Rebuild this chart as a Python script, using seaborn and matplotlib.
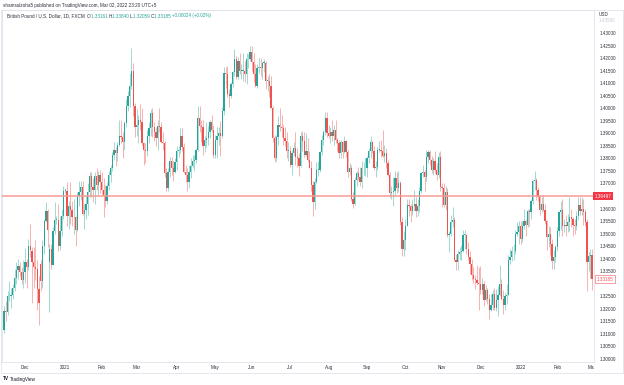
import numpy as np
import pandas as pd
import matplotlib
matplotlib.use("Agg")
import matplotlib.pyplot as plt
import matplotlib.transforms as mtransforms
from matplotlib.patches import Rectangle
import seaborn as sns

# -----------------------------
# GBP/USD daily candles, FXCM (open, high, low, close)
# -----------------------------
nov_2020 = [
    (1.3115, 1.3210, 1.3105, 1.3190), (1.3190, 1.3230, 1.3150, 1.3188),
    (1.3188, 1.3270, 1.3175, 1.3250), (1.3250, 1.3310, 1.3230, 1.3250),
    (1.3250, 1.3285, 1.3205, 1.3255), (1.3255, 1.3300, 1.3240, 1.3285),
    (1.3285, 1.3360, 1.3270, 1.3325), (1.3325, 1.3385, 1.3300, 1.3355),
    (1.3355, 1.3400, 1.3320, 1.3370), (1.3370, 1.3385, 1.3330, 1.3345),
    (1.3345, 1.3365, 1.3300, 1.3315), (1.3315, 1.3395, 1.3285, 1.3345),
]
dec_2020 = [
    (1.3345, 1.3443, 1.3305, 1.3385), (1.3385, 1.3400, 1.3285, 1.3365),
    (1.3365, 1.3480, 1.3355, 1.3450), (1.3450, 1.3540, 1.3405, 1.3435),
    (1.3430, 1.3445, 1.3225, 1.3385), (1.3385, 1.3445, 1.3285, 1.3365),
    (1.3365, 1.3475, 1.3315, 1.3360), (1.3360, 1.3395, 1.3195, 1.3280),
    (1.3280, 1.3330, 1.3135, 1.3225), (1.3380, 1.3395, 1.3270, 1.3310),
    (1.3310, 1.3475, 1.3285, 1.3450), (1.3450, 1.3560, 1.3420, 1.3550),
    (1.3550, 1.3625, 1.3545, 1.3590), (1.3590, 1.3600, 1.3445, 1.3515),
    (1.3385, 1.3460, 1.3188, 1.3440), (1.3440, 1.3460, 1.3360, 1.3375),
    (1.3375, 1.3525, 1.3375, 1.3510), (1.3510, 1.3625, 1.3500, 1.3555),
    (1.3555, 1.3570, 1.3540, 1.3555), (1.3555, 1.3620, 1.3430, 1.3450),
    (1.3450, 1.3570, 1.3435, 1.3510), (1.3510, 1.3600, 1.3490, 1.3570),
    (1.3570, 1.3690, 1.3560, 1.3670),
]
jan_2021 = [
    (1.3670, 1.3680, 1.3660, 1.3670), (1.3670, 1.3705, 1.3530, 1.3570),
    (1.3570, 1.3630, 1.3520, 1.3610), (1.3610, 1.3705, 1.3540, 1.3595),
    (1.3595, 1.3630, 1.3530, 1.3565), (1.3565, 1.3640, 1.3500, 1.3565),
    (1.3565, 1.3570, 1.3450, 1.3515), (1.3515, 1.3665, 1.3510, 1.3650),
    (1.3650, 1.3710, 1.3610, 1.3665), (1.3665, 1.3710, 1.3635, 1.3685),
    (1.3685, 1.3710, 1.3575, 1.3580), (1.3580, 1.3620, 1.3520, 1.3595),
    (1.3595, 1.3650, 1.3560, 1.3620), (1.3620, 1.3700, 1.3575, 1.3665),
    (1.3665, 1.3745, 1.3645, 1.3730), (1.3730, 1.3745, 1.3645, 1.3685),
    (1.3685, 1.3720, 1.3625, 1.3675), (1.3675, 1.3745, 1.3620, 1.3730),
    (1.3730, 1.3760, 1.3675, 1.3695), (1.3695, 1.3750, 1.3655, 1.3735),
    (1.3735, 1.3755, 1.3660, 1.3705),
]
feb_2021 = [
    (1.3705, 1.3745, 1.3650, 1.3675), (1.3675, 1.3720, 1.3566, 1.3655),
    (1.3655, 1.3695, 1.3605, 1.3630), (1.3630, 1.3705, 1.3620, 1.3690),
    (1.3690, 1.3750, 1.3675, 1.3735), (1.3735, 1.3775, 1.3705, 1.3760),
    (1.3760, 1.3825, 1.3750, 1.3815), (1.3815, 1.3865, 1.3795, 1.3835),
    (1.3835, 1.3845, 1.3770, 1.3820), (1.3820, 1.3865, 1.3790, 1.3855),
    (1.3855, 1.3955, 1.3850, 1.3890), (1.3890, 1.3955, 1.3860, 1.3885),
    (1.3885, 1.3905, 1.3800, 1.3865), (1.3865, 1.3950, 1.3835, 1.3940),
    (1.3940, 1.4035, 1.3925, 1.4010), (1.4010, 1.4070, 1.3990, 1.4050),
    (1.4050, 1.4140, 1.4005, 1.4090), (1.4090, 1.4240, 1.4075, 1.4150),
    (1.4150, 1.4180, 1.3970, 1.4010), (1.4010, 1.4020, 1.3885, 1.3925),
]
mar_2021 = [
    (1.3925, 1.3995, 1.3890, 1.3935), (1.3935, 1.3975, 1.3860, 1.3955),
    (1.3955, 1.4015, 1.3915, 1.3945), (1.3945, 1.4000, 1.3855, 1.3860),
    (1.3860, 1.3865, 1.3775, 1.3835), (1.3835, 1.3860, 1.3780, 1.3830),
    (1.3830, 1.3915, 1.3810, 1.3890), (1.3890, 1.3945, 1.3860, 1.3920),
    (1.3920, 1.3995, 1.3890, 1.3980), (1.3980, 1.4000, 1.3885, 1.3925),
    (1.3925, 1.3945, 1.3870, 1.3905), (1.3905, 1.3925, 1.3850, 1.3880),
    (1.3880, 1.3955, 1.3835, 1.3930), (1.3930, 1.4000, 1.3905, 1.3925),
    (1.3925, 1.3945, 1.3860, 1.3865), (1.3865, 1.3905, 1.3835, 1.3860),
    (1.3860, 1.3870, 1.3725, 1.3740), (1.3740, 1.3760, 1.3670, 1.3680),
    (1.3680, 1.3760, 1.3670, 1.3745), (1.3745, 1.3805, 1.3725, 1.3790),
    (1.3790, 1.3805, 1.3735, 1.3760), (1.3760, 1.3790, 1.3710, 1.3745),
    (1.3745, 1.3800, 1.3740, 1.3785),
]
apr_2021 = [
    (1.3785, 1.3850, 1.3755, 1.3830), (1.3830, 1.3850, 1.3805, 1.3835),
    (1.3835, 1.3920, 1.3820, 1.3890), (1.3890, 1.3920, 1.3830, 1.3845),
    (1.3845, 1.3860, 1.3740, 1.3745), (1.3745, 1.3775, 1.3705, 1.3735),
    (1.3735, 1.3760, 1.3670, 1.3705), (1.3705, 1.3775, 1.3680, 1.3745),
    (1.3745, 1.3800, 1.3720, 1.3770), (1.3770, 1.3815, 1.3760, 1.3790),
    (1.3790, 1.3815, 1.3750, 1.3795), (1.3795, 1.3840, 1.3780, 1.3835),
    (1.3835, 1.4010, 1.3830, 1.3960), (1.3960, 1.4010, 1.3905, 1.3930),
    (1.3930, 1.3955, 1.3865, 1.3925), (1.3925, 1.3955, 1.3815, 1.3850),
    (1.3850, 1.3890, 1.3825, 1.3875), (1.3875, 1.3945, 1.3845, 1.3880),
    (1.3880, 1.3930, 1.3855, 1.3905), (1.3905, 1.3955, 1.3880, 1.3945),
    (1.3945, 1.3975, 1.3905, 1.3915), (1.3915, 1.3935, 1.3800, 1.3815),
]
may_2021 = [
    (1.3815, 1.3895, 1.3800, 1.3875), (1.3875, 1.3925, 1.3800, 1.3890),
    (1.3890, 1.3925, 1.3855, 1.3900), (1.3900, 1.3950, 1.3810, 1.3890),
    (1.3890, 1.4005, 1.3880, 1.3990), (1.3990, 1.4165, 1.3975, 1.4140),
    (1.4140, 1.4165, 1.4080, 1.4135), (1.4135, 1.4170, 1.4045, 1.4055),
    (1.4055, 1.4075, 1.4005, 1.4050), (1.4050, 1.4105, 1.4040, 1.4095),
    (1.4095, 1.4150, 1.4085, 1.4145), (1.4145, 1.4235, 1.4130, 1.4195),
    (1.4195, 1.4210, 1.4115, 1.4125), (1.4125, 1.4205, 1.4115, 1.4190),
    (1.4190, 1.4220, 1.4135, 1.4150), (1.4150, 1.4175, 1.4115, 1.4150),
    (1.4150, 1.4220, 1.4110, 1.4150), (1.4150, 1.4190, 1.4105, 1.4135),
    (1.4135, 1.4220, 1.4095, 1.4195), (1.4195, 1.4215, 1.4160, 1.4195),
    (1.4195, 1.4250, 1.4190, 1.4225),
]
jun_2021 = [
    (1.4225, 1.4250, 1.4150, 1.4185), (1.4185, 1.4220, 1.4105, 1.4135),
    (1.4135, 1.4175, 1.4085, 1.4090), (1.4090, 1.4175, 1.4080, 1.4160),
    (1.4160, 1.4200, 1.4140, 1.4165), (1.4165, 1.4200, 1.4130, 1.4160),
    (1.4160, 1.4185, 1.4115, 1.4180), (1.4180, 1.4195, 1.4145, 1.4180),
    (1.4180, 1.4190, 1.4075, 1.4110), (1.4110, 1.4130, 1.4070, 1.4110),
    (1.4110, 1.4135, 1.4045, 1.4090), (1.4090, 1.4130, 1.4000, 1.4000),
    (1.4000, 1.4010, 1.3865, 1.3880), (1.3880, 1.3895, 1.3785, 1.3800),
    (1.3800, 1.3895, 1.3790, 1.3885), (1.3885, 1.3970, 1.3855, 1.3935),
    (1.3935, 1.4000, 1.3910, 1.3925), (1.3925, 1.3975, 1.3885, 1.3920),
    (1.3920, 1.3935, 1.3855, 1.3880), (1.3880, 1.3925, 1.3850, 1.3870),
    (1.3870, 1.3905, 1.3800, 1.3830), (1.3830, 1.3865, 1.3790, 1.3830),
]
jul_2021 = [
    (1.3830, 1.3850, 1.3765, 1.3775), (1.3775, 1.3835, 1.3735, 1.3820),
    (1.3820, 1.3865, 1.3810, 1.3840), (1.3840, 1.3905, 1.3775, 1.3805),
    (1.3805, 1.3840, 1.3765, 1.3800), (1.3800, 1.3820, 1.3730, 1.3770),
    (1.3770, 1.3905, 1.3765, 1.3890), (1.3890, 1.3910, 1.3830, 1.3870),
    (1.3870, 1.3905, 1.3805, 1.3815), (1.3815, 1.3900, 1.3810, 1.3830),
    (1.3830, 1.3880, 1.3785, 1.3795), (1.3795, 1.3830, 1.3760, 1.3760),
    (1.3760, 1.3790, 1.3670, 1.3695), (1.3695, 1.3710, 1.3572, 1.3625),
    (1.3625, 1.3720, 1.3600, 1.3705), (1.3705, 1.3785, 1.3700, 1.3755),
    (1.3755, 1.3790, 1.3730, 1.3755), (1.3755, 1.3830, 1.3745, 1.3825),
    (1.3825, 1.3895, 1.3815, 1.3875), (1.3875, 1.3915, 1.3855, 1.3905),
    (1.3905, 1.3985, 1.3895, 1.3960), (1.3960, 1.3985, 1.3885, 1.3900),
]
aug_2021 = [
    (1.3900, 1.3935, 1.3880, 1.3890), (1.3890, 1.3925, 1.3860, 1.3905),
    (1.3905, 1.3955, 1.3870, 1.3890), (1.3890, 1.3935, 1.3855, 1.3915),
    (1.3915, 1.3955, 1.3860, 1.3875), (1.3875, 1.3880, 1.3830, 1.3860),
    (1.3860, 1.3875, 1.3800, 1.3820), (1.3820, 1.3875, 1.3800, 1.3865),
    (1.3865, 1.3870, 1.3800, 1.3825), (1.3825, 1.3890, 1.3820, 1.3870),
    (1.3870, 1.3875, 1.3805, 1.3825), (1.3825, 1.3835, 1.3725, 1.3745),
    (1.3745, 1.3780, 1.3735, 1.3760), (1.3760, 1.3775, 1.3630, 1.3640),
    (1.3640, 1.3665, 1.3602, 1.3620), (1.3620, 1.3725, 1.3615, 1.3715),
    (1.3715, 1.3750, 1.3690, 1.3740), (1.3740, 1.3765, 1.3715, 1.3725),
    (1.3725, 1.3765, 1.3690, 1.3705), (1.3705, 1.3790, 1.3680, 1.3760),
    (1.3760, 1.3785, 1.3735, 1.3760), (1.3760, 1.3800, 1.3730, 1.3760),
]
sep_2021 = [
    (1.3760, 1.3810, 1.3725, 1.3800), (1.3800, 1.3840, 1.3780, 1.3830),
    (1.3830, 1.3890, 1.3800, 1.3865), (1.3865, 1.3870, 1.3820, 1.3830),
    (1.3830, 1.3850, 1.3755, 1.3760), (1.3760, 1.3790, 1.3725, 1.3765),
    (1.3765, 1.3845, 1.3755, 1.3835), (1.3835, 1.3870, 1.3825, 1.3835),
    (1.3835, 1.3875, 1.3805, 1.3830), (1.3830, 1.3915, 1.3805, 1.3810),
    (1.3810, 1.3855, 1.3785, 1.3820), (1.3820, 1.3840, 1.3760, 1.3780),
    (1.3780, 1.3795, 1.3730, 1.3735), (1.3735, 1.3745, 1.3645, 1.3660),
    (1.3660, 1.3690, 1.3640, 1.3665), (1.3665, 1.3725, 1.3610, 1.3670),
    (1.3670, 1.3750, 1.3655, 1.3720), (1.3720, 1.3745, 1.3660, 1.3680),
    (1.3680, 1.3750, 1.3665, 1.3700), (1.3700, 1.3710, 1.3535, 1.3545),
    (1.3545, 1.3565, 1.3412, 1.3440), (1.3440, 1.3510, 1.3410, 1.3475),
]
oct_2021 = [
    (1.3475, 1.3560, 1.3435, 1.3530), (1.3530, 1.3640, 1.3530, 1.3615),
    (1.3615, 1.3640, 1.3570, 1.3610), (1.3610, 1.3620, 1.3545, 1.3590),
    (1.3590, 1.3640, 1.3575, 1.3610), (1.3610, 1.3675, 1.3590, 1.3620),
    (1.3620, 1.3645, 1.3565, 1.3590), (1.3590, 1.3640, 1.3570, 1.3610),
    (1.3610, 1.3685, 1.3585, 1.3670), (1.3670, 1.3745, 1.3660, 1.3740),
    (1.3740, 1.3775, 1.3725, 1.3745), (1.3745, 1.3755, 1.3670, 1.3725),
    (1.3725, 1.3835, 1.3710, 1.3805), (1.3805, 1.3835, 1.3780, 1.3825),
    (1.3825, 1.3835, 1.3775, 1.3795), (1.3795, 1.3810, 1.3740, 1.3755),
    (1.3755, 1.3800, 1.3735, 1.3790), (1.3790, 1.3830, 1.3740, 1.3755),
    (1.3755, 1.3780, 1.3715, 1.3735), (1.3735, 1.3825, 1.3720, 1.3805),
    (1.3805, 1.3830, 1.3670, 1.3685),
]
nov_2021 = [
    (1.3685, 1.3700, 1.3605, 1.3680), (1.3680, 1.3700, 1.3605, 1.3615),
    (1.3615, 1.3690, 1.3595, 1.3665), (1.3665, 1.3680, 1.3485, 1.3495),
    (1.3495, 1.3510, 1.3425, 1.3500), (1.3500, 1.3575, 1.3490, 1.3545),
    (1.3545, 1.3605, 1.3525, 1.3555), (1.3555, 1.3565, 1.3390, 1.3395),
    (1.3395, 1.3420, 1.3355, 1.3385), (1.3385, 1.3435, 1.3355, 1.3420),
    (1.3420, 1.3445, 1.3395, 1.3425), (1.3425, 1.3455, 1.3395, 1.3430),
    (1.3430, 1.3515, 1.3425, 1.3495), (1.3495, 1.3515, 1.3440, 1.3495),
    (1.3495, 1.3500, 1.3420, 1.3440), (1.3440, 1.3465, 1.3395, 1.3405),
    (1.3405, 1.3430, 1.3340, 1.3380), (1.3380, 1.3400, 1.3315, 1.3335),
    (1.3335, 1.3365, 1.3305, 1.3320), (1.3320, 1.3335, 1.3280, 1.3315),
    (1.3315, 1.3375, 1.3295, 1.3305), (1.3305, 1.3365, 1.3195, 1.3300),
]
dec_2021 = [
    (1.3300, 1.3370, 1.3260, 1.3275), (1.3275, 1.3325, 1.3260, 1.3300),
    (1.3300, 1.3310, 1.3210, 1.3235), (1.3235, 1.3295, 1.3230, 1.3275),
    (1.3275, 1.3285, 1.3220, 1.3240), (1.3240, 1.3260, 1.3160, 1.3195),
    (1.3195, 1.3260, 1.3190, 1.3215), (1.3215, 1.3275, 1.3195, 1.3260),
    (1.3260, 1.3285, 1.3195, 1.3205), (1.3205, 1.3280, 1.3190, 1.3235),
    (1.3235, 1.3290, 1.3170, 1.3255), (1.3255, 1.3375, 1.3250, 1.3300),
    (1.3300, 1.3320, 1.3235, 1.3240), (1.3240, 1.3275, 1.3180, 1.3215),
    (1.3215, 1.3265, 1.3195, 1.3250), (1.3250, 1.3300, 1.3220, 1.3255),
    (1.3255, 1.3415, 1.3255, 1.3395), (1.3395, 1.3440, 1.3380, 1.3405),
    (1.3405, 1.3450, 1.3390, 1.3430), (1.3430, 1.3460, 1.3395, 1.3430),
    (1.3430, 1.3515, 1.3420, 1.3500), (1.3500, 1.3545, 1.3490, 1.3505),
    (1.3505, 1.3550, 1.3460, 1.3530),
]
jan_2022 = [
    (1.3530, 1.3550, 1.3460, 1.3480), (1.3480, 1.3550, 1.3465, 1.3530),
    (1.3530, 1.3600, 1.3520, 1.3550), (1.3550, 1.3560, 1.3490, 1.3535),
    (1.3535, 1.3600, 1.3525, 1.3590), (1.3590, 1.3600, 1.3530, 1.3585),
    (1.3585, 1.3640, 1.3560, 1.3630), (1.3630, 1.3715, 1.3620, 1.3710),
    (1.3710, 1.3749, 1.3675, 1.3715), (1.3715, 1.3720, 1.3635, 1.3675),
    (1.3675, 1.3685, 1.3630, 1.3645), (1.3645, 1.3655, 1.3575, 1.3595),
    (1.3595, 1.3645, 1.3585, 1.3620), (1.3620, 1.3655, 1.3590, 1.3595),
    (1.3595, 1.3620, 1.3540, 1.3550), (1.3550, 1.3555, 1.3435, 1.3485),
    (1.3485, 1.3530, 1.3445, 1.3500), (1.3500, 1.3525, 1.3415, 1.3460),
    (1.3460, 1.3480, 1.3360, 1.3390), (1.3390, 1.3435, 1.3358, 1.3405),
    (1.3405, 1.3455, 1.3385, 1.3445),
]
feb_2022 = [
    (1.3445, 1.3525, 1.3430, 1.3510), (1.3510, 1.3590, 1.3490, 1.3585),
    (1.3585, 1.3630, 1.3515, 1.3595), (1.3595, 1.3640, 1.3490, 1.3530),
    (1.3530, 1.3560, 1.3505, 1.3535), (1.3535, 1.3575, 1.3490, 1.3530),
    (1.3530, 1.3580, 1.3505, 1.3545), (1.3545, 1.3645, 1.3510, 1.3565),
    (1.3565, 1.3600, 1.3525, 1.3560), (1.3560, 1.3565, 1.3490, 1.3535),
    (1.3535, 1.3560, 1.3500, 1.3530), (1.3530, 1.3590, 1.3515, 1.3570),
    (1.3570, 1.3645, 1.3555, 1.3615), (1.3615, 1.3645, 1.3575, 1.3590),
    (1.3590, 1.3645, 1.3575, 1.3600), (1.3600, 1.3640, 1.3535, 1.3585),
    (1.3585, 1.3600, 1.3530, 1.3545), (1.3545, 1.3560, 1.3273, 1.3385),
    (1.3385, 1.3425, 1.3350, 1.3410), (1.3410, 1.3440, 1.3325, 1.3415),
]
mar_2022 = [
    (1.3415, 1.3440, 1.3275, 1.33185),
]

first_day = "2020-11-13"
level_line = 1.36497
last_price = 1.33185
# labels hidden behind the two price boxes (1.365 and 1.330) are left out
price_ticks = [1.300, 1.305, 1.310, 1.315, 1.320, 1.325, 1.335, 1.340,
               1.345, 1.350, 1.355, 1.360, 1.370, 1.375, 1.380,
               1.385, 1.390, 1.395, 1.400, 1.405, 1.410, 1.415, 1.420,
               1.425, 1.430]

months = [nov_2020, dec_2020, jan_2021, feb_2021, mar_2021, apr_2021,
          may_2021, jun_2021, jul_2021, aug_2021, sep_2021, oct_2021,
          nov_2021, dec_2021, jan_2022, feb_2022, mar_2022]
df = pd.DataFrame([row for m in months for row in m],
                  columns=["open", "high", "low", "close"])
df["date"] = pd.bdate_range(first_day, periods=len(df))

# month starts -> time axis labels (January shows the year)
per = df["date"].dt.to_period("M")
starts = df.index[per != per.shift()][1:]
month_labels = [str(d.year) if d.month == 1 else d.strftime("%b")
                for d in df.loc[starts, "date"]]

# -----------------------------
# Style / layout (pixel based, 624 x 385)
# -----------------------------
sns.set_theme(style="white")
plt.rcParams["font.family"] = ["Liberation Sans", "DejaVu Sans"]

W, H = 624, 385
TEAL, RED = "#26a69a", "#ef5350"
TEAL_W, RED_W = "#93d3cc", "#f5a6a3"
TXT = "#2a2e39"
BORDER = "#e0e3eb"

left_px, right_px, top_px, bot_px = 2, 594, 10, 362
px_per_unit = 2507.7          # vertical pixels per 1.0 of price
dx = 1.745                    # pixels per bar
x0 = 4.06                     # pixel of the first bar

fig = plt.figure(figsize=(W / 100, H / 100), dpi=100)
fig.patch.set_facecolor("white")
ax = fig.add_axes([left_px / W, 1 - bot_px / H,
                   (right_px - left_px) / W, (bot_px - top_px) / H])

up = (df["close"] >= df["open"]).to_numpy()
body_col = np.where(up, TEAL, RED)
wick_col = np.where(up, TEAL_W, RED_W)
body_lo = np.minimum(df["open"], df["close"])
body_h = np.maximum((df["close"] - df["open"]).abs(), 0.00025)

ax.vlines(df.index, df["low"], df["high"], colors=wick_col,
          linewidth=0.6, zorder=2)
ax.bar(df.index, body_h, bottom=body_lo, width=0.72, color=body_col,
       linewidth=0, zorder=3)
ax.axhline(level_line, color="#f59a96", linewidth=1.1, zorder=4)

ymax = 1.43 + (33 - top_px) / px_per_unit
ymin = 1.43 - (bot_px - 33) / px_per_unit
ax.set_ylim(ymin, ymax)
ax.set_xlim((left_px - x0) / dx, (right_px - x0) / dx)

ax.yaxis.tick_right()
ax.set_yticks(price_ticks)
ax.set_yticklabels([f"{t:.5f}" for t in price_ticks])
ax.tick_params(axis="y", length=0, pad=4.2, labelsize=3.3, labelcolor=TXT)
ax.set_xticks([])
ax.grid(False)
for s in ax.spines.values():
    s.set_color(BORDER)
    s.set_linewidth(0.6)

# time axis labels, clipped at the price scale like the original
clip = mtransforms.TransformedBbox(
    mtransforms.Bbox([[0, 0], [right_px / W, 1]]), fig.transFigure)
lab_y = 1 - 367.5 / H
for pos, lab in zip(starts, month_labels):
    xf = (x0 + pos * dx) / W
    t = fig.text(xf, lab_y, lab, ha="center", va="center", fontsize=3.3,
                 color=TXT)
    t.set_clip_box(clip)
    t.set_clip_on(True)

# price scale extras
tr = mtransforms.blended_transform_factory(fig.transFigure, ax.transData)
ax.text((right_px + 0.5) / W, level_line, "1.36497", transform=tr,
        ha="left", va="center", fontsize=3.3, color="white", zorder=6,
        bbox=dict(boxstyle="square,pad=0.35", fc="#f23645", ec="none"))
ax.text((right_px + 2.5) / W, last_price, f"{last_price:.5f}", transform=tr,
        ha="left", va="center", fontsize=3.3, color="#f7525f", zorder=6,
        bbox=dict(boxstyle="square,pad=0.3", fc="white", ec="#f7525f",
                  lw=0.4))
fig.text(599 / W, 1 - 15 / H, "USD", ha="left", va="center", fontsize=3.3,
         color=TXT)
fig.text(598.5 / W, 1 - 20.5 / H, "1.43500", ha="left", va="center",
         fontsize=3.3, color="#c3c6cf")

# outer frame of the chart pane
fig.add_artist(Rectangle((1 / W, 1 - 373 / H), 622 / W, 363 / H,
                         transform=fig.transFigure, fill=False,
                         ec=BORDER, lw=0.6))

# header lines
fig.text(3 / W, 1 - 5.5 / H,
         "shamsulzoha5 published on TradingView.com, Mar 02, 2022 23:20 UTC+5",
         ha="left", va="center", fontsize=3.3, color=TXT)

renderer = fig.canvas.get_renderer()
x_cur = 7 / W
pieces = [("British Pound / U.S. Dollar, 1D, FXCM  ", TXT),
          ("O", TXT), ("1.33161 ", TEAL), ("H", TXT), ("1.33840 ", TEAL),
          ("L", TXT), ("1.32059 ", TEAL), ("C", TXT), ("1.33185 ", TEAL),
          ("+0.00024 (+0.02%)", TEAL)]
for txt, col in pieces:
    t = fig.text(x_cur, 1 - 16 / H, txt, ha="left", va="center",
                 fontsize=3.3, color=col)
    bb = t.get_window_extent(renderer=renderer)
    x_cur += bb.width / (W * fig.dpi / 100)

# footer logo
fig.text(3 / W, 1 - 379 / H, "TV", ha="left", va="center", fontsize=3.4,
         color="#131722", fontweight="bold")
fig.text(9.5 / W, 1 - 379 / H, "TradingView", ha="left", va="center",
         fontsize=3.3, color="#131722")

fig.savefig("out.png", dpi=100)
print("bars:", len(df))
